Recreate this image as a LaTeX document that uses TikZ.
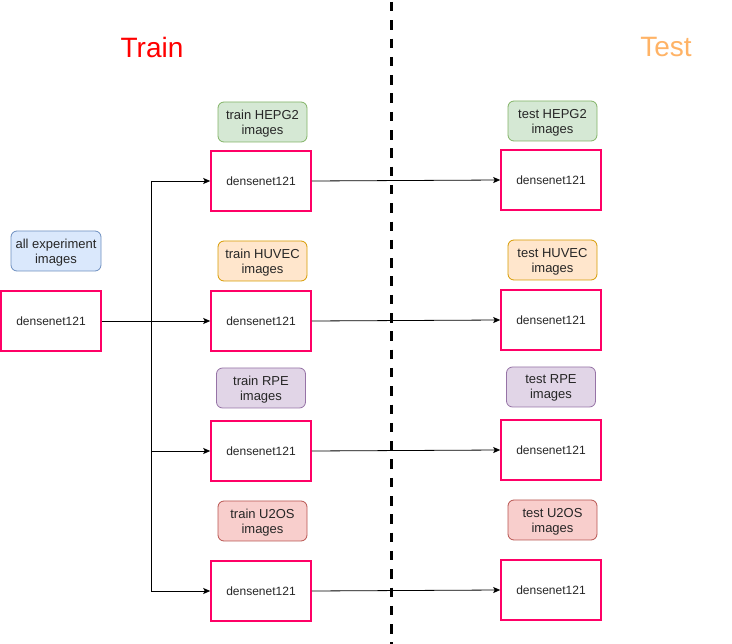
\documentclass[tikz,border=0pt]{standalone}
\usepackage{fontspec}
\setmainfont{Liberation Sans}
\usetikzlibrary{arrows.meta}
\definecolor{netpink}{HTML}{FF0066}
\definecolor{trainred}{HTML}{FF0000}
\definecolor{testorange}{HTML}{FFB366}
\definecolor{bluefill}{HTML}{DAE8FC}\definecolor{bluedraw}{HTML}{6C8EBF}
\definecolor{greenfill}{HTML}{D5E8D4}\definecolor{greendraw}{HTML}{82B366}
\definecolor{orangefill}{HTML}{FFE6CC}\definecolor{orangedraw}{HTML}{D79B00}
\definecolor{purplefill}{HTML}{E1D5E7}\definecolor{purpledraw}{HTML}{9673A6}
\definecolor{redfill}{HTML}{F8CECC}\definecolor{reddraw}{HTML}{B85450}
\begin{document}
\begin{tikzpicture}[x=1pt,y=-1pt,
  netbox/.style={draw=netpink,line width=1.6pt,minimum width=100pt,minimum height=60pt,inner sep=0pt,
    font=\fontsize{12}{14}\selectfont,text=black!85},
  setlabel/.style={rounded corners=6pt,line width=0.8pt,minimum width=89pt,minimum height=40pt,inner sep=0pt,
    align=center,text depth=-2pt,font=\fontsize{13}{15}\selectfont,text=black!85},
  title/.style={font=\fontsize{28}{32}\selectfont},
  link/.style={line width=0.8pt,-{Stealth[length=7pt,width=6pt,inset=1.5pt]}},
  trunk/.style={line width=0.8pt}]
\useasboundingbox (0,0) rectangle (732,644);

% phase titles and divider
\node[title,text=trainred] (traintitle) at (152,47) {Train};
\node[title,text=testorange] (testtitle) at (666,47) {Test};
\coordinate (divtop) at (391,0);
\coordinate (divbot) at (391,644);
\draw[line width=3pt,dash pattern=on 9.5pt off 8.8pt,dash phase=-2pt] (divtop) -- (divbot);

% shared model
\node[setlabel,fill=bluefill,draw=bluedraw,minimum width=90pt] (allimg) at (56,251) {all experiment\\images};
\node[netbox] (allnet) at (51,321) {densenet121};

% training models
\node[setlabel,fill=greenfill,draw=greendraw] (trhepg) at (262.5,122) {train HEPG2\\images};
\node[netbox] (trnet1) at (261,181) {densenet121};
\node[setlabel,fill=orangefill,draw=orangedraw] (trhuvec) at (262.5,261) {train HUVEC\\images};
\node[netbox] (trnet2) at (261,321) {densenet121};
\node[setlabel,fill=purplefill,draw=purpledraw] (trrpe) at (261,388) {train RPE\\images};
\node[netbox] (trnet3) at (261,451) {densenet121};
\node[setlabel,fill=redfill,draw=reddraw] (tru2os) at (262.5,521) {train U2OS\\images};
\node[netbox] (trnet4) at (261,591) {densenet121};

% test models
\node[setlabel,fill=greenfill,draw=greendraw] (tehepg) at (552.5,121) {test HEPG2\\images};
\node[netbox] (tenet1) at (551,180) {densenet121};
\node[setlabel,fill=orangefill,draw=orangedraw] (tehuvec) at (552.5,260) {test HUVEC\\images};
\node[netbox] (tenet2) at (551,320) {densenet121};
\node[setlabel,fill=purplefill,draw=purpledraw] (terpe) at (551,387) {test RPE\\images};
\node[netbox] (tenet3) at (551,450) {densenet121};
\node[setlabel,fill=redfill,draw=reddraw] (teu2os) at (552.5,520) {test U2OS\\images};
\node[netbox] (tenet4) at (551,590) {densenet121};

% fan-out from the shared model
\coordinate (split) at (151,321);
\draw[link] (allnet.east) -- (trnet2.west);
\draw[trunk] (trnet1.west -| split) -- (trnet4.west -| split);
\draw[link] (trnet1.west -| split) -- (trnet1.west);
\draw[link] (trnet3.west -| split) -- (trnet3.west);
\draw[link] (trnet4.west -| split) -- (trnet4.west);

% train to test
\draw[link] (trnet1.east) -- (tenet1.west);
\draw[link] (trnet2.east) -- (tenet2.west);
\draw[link] (trnet3.east) -- (tenet3.west);
\draw[link] (trnet4.east) -- (tenet4.west);
\end{tikzpicture}
\end{document}
